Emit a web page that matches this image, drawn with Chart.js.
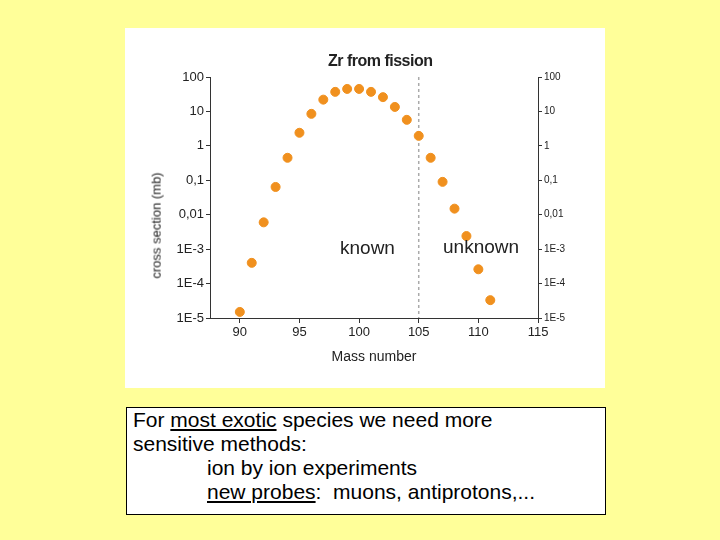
<!DOCTYPE html>
<html>
<head>
<meta charset="utf-8">
<script src="https://cdn.jsdelivr.net/npm/chart.js@4"></script>
<style>
body{margin:0;background:#ffff99;width:720px;height:540px;position:relative;font-family:Arial,"Liberation Sans",sans-serif;overflow:hidden}
#panel{position:absolute;left:125px;top:28px;width:480px;height:360px;background:#fff}
#c{position:absolute;left:0;top:0}
.t{position:absolute;color:#222;white-space:nowrap}
#box{position:absolute;left:126px;top:407px;width:478px;height:106px;background:#fff;border:1px solid #000;font-size:21px;line-height:24px;color:#000}
#box div{padding-left:6px}
</style>
</head>
<body>
<div id="panel">
<canvas id="c" width="480" height="360"></canvas>
<div class="t" style="left:203px;top:24px;font-size:16px;font-weight:bold;letter-spacing:-0.5px">Zr from fission</div>
<div class="t" style="left:215px;top:209px;font-size:19px">known</div>
<div class="t" style="left:318px;top:208px;font-size:19px">unknown</div>
<div class="t" style="left:-22px;top:190px;font-size:13px;color:#222;transform:rotate(-90deg)">cross section (mb)</div>
</div>
<div id="box">
<div>For <u>most exotic</u> species we need more</div>
<div>sensitive methods:</div>
<div style="padding-left:80px">ion by ion experiments</div>
<div style="padding-left:80px"><u>new probes</u>:&nbsp; muons, antiprotons,...</div>
</div>
<script>
var masses = [90,91,92,93,94,95,96,97,98,99,100,101,102,103,104,105,106,107,108,109,110,111];
var yields = [1.5e-5,4e-4,6e-3,0.064,0.45,2.4,8.5,22,37,45,45,37,26,13.5,5.7,1.95,0.45,0.09,0.015,2.4e-3,2.6e-4,3.3e-5];
var tickVals = [1e-5,1e-4,1e-3,0.01,0.1,1,10,100];
var tickText = ['1E-5','1E-4','1E-3','0,01','0,1','1','10','100'];
var xTicks = [90,95,100,105,110,115];

function lbl(v){ var i = tickVals.findIndex(function(t){return Math.abs(Math.log10(t)-Math.log10(v))<1e-6}); return i<0?'':tickText[i]; }

var dashLine = {
  id:'dashLine',
  beforeDatasetsDraw:function(chart){
    var c = chart.ctx, x = chart.scales.x.getPixelForValue(105), a = chart.chartArea;
    c.save(); c.strokeStyle='#aaa'; c.setLineDash([3,3]); c.lineWidth=1.5;
    c.beginPath(); c.moveTo(x,a.top); c.lineTo(x,a.bottom); c.stroke(); c.restore();
  }
};

new Chart(document.getElementById('c'), {
  type:'scatter',
  data:{datasets:[{data:masses.map(function(m,i){return {x:m,y:yields[i]}}),
    backgroundColor:'#f0901e',borderColor:'#f0901e',pointRadius:4.5}]},
  plugins:[dashLine],
  options:{
    responsive:false,animation:false,
    layout:{padding:{top:49,left:0,right:0,bottom:18}},
    plugins:{legend:{display:false},tooltip:{enabled:false}},
    scales:{
      x:{type:'linear',min:87.5,max:115,
        afterBuildTicks:function(s){s.ticks=xTicks.map(function(v){return {value:v}})},
        afterFit:function(s){s.height=52},
        grid:{drawOnChartArea:false,color:'#333',tickLength:5},
        border:{color:'#333'},
        ticks:{color:'#222',font:{size:13},padding:2},
        title:{display:true,text:'Mass number',color:'#222',font:{size:14},padding:{top:4}}},
      y:{type:'logarithmic',min:1e-5,max:100,
        afterBuildTicks:function(s){s.ticks=tickVals.map(function(v){return {value:v}})},
        afterFit:function(s){s.width=85},
        grid:{drawOnChartArea:false,color:'#333',tickLength:4},
        border:{color:'#333'},
        ticks:{color:'#222',font:{size:13},padding:2,callback:lbl}},
      y2:{type:'logarithmic',position:'right',min:1e-5,max:100,
        afterBuildTicks:function(s){s.ticks=tickVals.map(function(v){return {value:v}})},
        afterFit:function(s){s.width=67},
        grid:{drawOnChartArea:false,color:'#333',tickLength:4},
        border:{color:'#333'},
        ticks:{color:'#222',font:{size:10},padding:2,callback:lbl}}
    }
  }
});
</script>
</body>
</html>
